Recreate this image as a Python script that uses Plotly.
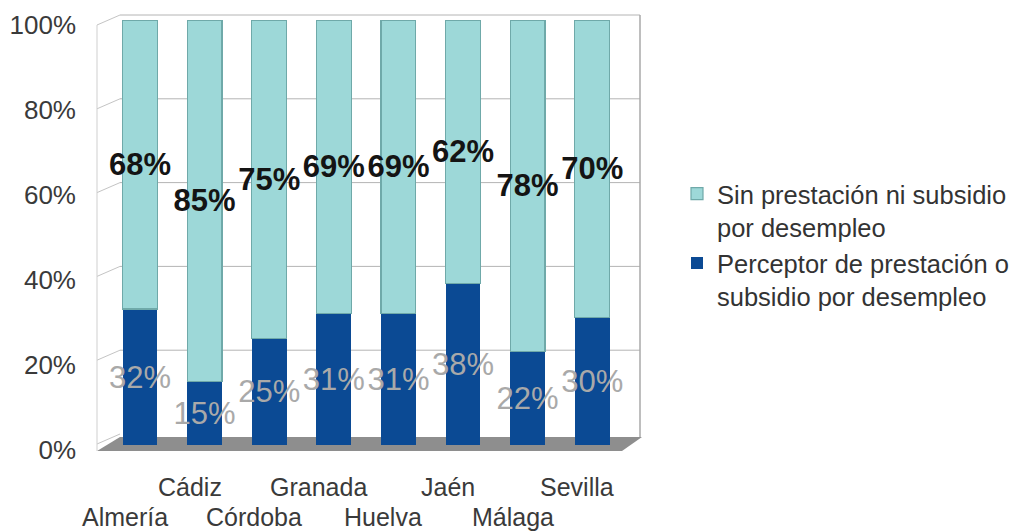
import plotly.graph_objects as go

# ---- data ----
provinces = ["Almería", "Cádiz", "Córdoba", "Granada", "Huelva", "Jaén", "Málaga", "Sevilla"]
perceptor = [32, 15, 25, 31, 31, 38, 22, 30]
sin_prestacion = [68, 85, 75, 69, 69, 62, 78, 70]
series_names = ["Perceptor de prestación o<br>subsidio por desempleo",
                "Sin prestación ni subsidio<br>por desempleo"]
y_ticks = [0, 20, 40, 60, 80, 100]

FONT = "Liberation Sans, Arial, sans-serif"
OFF = 8  # default page body margin
W, H = 1021 - OFF, 531 - OFF
# plot area in screen pixels
SL, SR, ST, SB = 97, 640, 20, 445
L, R, T, B = SL - OFF, SR - OFF, ST - OFF, SB - OFF
PW, PH = R - L, B - T

def px_x(p):  # screen px -> paper
    return (p - SL) / PW

def px_y(p):
    return (SB - p) / PH

# back-wall mapping of the pseudo-3D frame (value -> screen pixel y)
def back_y(v):
    return 15 + (100 - v) * 4.19

fig = go.Figure()
fig.add_trace(go.Bar(
    x=provinces, y=perceptor, name=series_names[0], legendgroup="a",
    marker=dict(color="#0b4a94", line=dict(width=0)),
    width=0.54,
    text=[f"{v}%" for v in perceptor], textposition="inside", textangle=0,
    constraintext="none", insidetextanchor="middle",
    insidetextfont=dict(family=FONT, size=31, color="#a9a9a9"),
    hoverinfo="skip",
))
fig.add_trace(go.Bar(
    x=provinces, y=sin_prestacion, name=series_names[1], legendgroup="b",
    marker=dict(color="#9dd8d8", line=dict(width=1.2, color="#6fa9a9")),
    width=0.54,
    text=[f"<b>{v}%</b>" for v in sin_prestacion], textposition="inside", textangle=0,
    constraintext="none", insidetextanchor="middle",
    insidetextfont=dict(family=FONT, size=31, color="#141414"),
    hoverinfo="skip",
))

shapes = []
# floor
shapes.append(dict(type="path", xref="paper", yref="paper", layer="below",
                   path=f"M {px_x(97)},{px_y(451)} L {px_x(120)},{px_y(437)} L {px_x(642)},{px_y(437)} L {px_x(622)},{px_y(451)} Z",
                   fillcolor="#8e8e8e", line=dict(width=0)))
for v in y_ticks:
    by = back_y(v)
    if v > 0:
        shapes.append(dict(type="line", xref="paper", yref="paper", layer="below",
                           x0=px_x(120), x1=px_x(640), y0=px_y(by), y1=px_y(by),
                           line=dict(color="#b4b4b4", width=1)))
    shapes.append(dict(type="line", xref="paper", yref="paper", layer="below",
                       x0=px_x(97), x1=px_x(120), y0=px_y(by + 10), y1=px_y(by),
                       line=dict(color="#c4c4c4", width=1)))
# left front edge and right back edge
shapes.append(dict(type="line", xref="paper", yref="paper", layer="below",
                   x0=px_x(97), x1=px_x(97), y0=px_y(25), y1=px_y(451),
                   line=dict(color="#cfcfcf", width=1)))
shapes.append(dict(type="line", xref="paper", yref="paper", layer="below",
                   x0=px_x(640), x1=px_x(640), y0=px_y(15), y1=px_y(437),
                   line=dict(color="#a8a8a8", width=1.5)))

annotations = []
for i, name in enumerate(provinces):
    row_py = 517 if i % 2 == 0 else 487
    annotations.append(dict(x=name, xref="x", y=px_y(row_py), yref="paper",
                            text=name, showarrow=False, xshift=-15,
                            yanchor="middle", xanchor="center",
                            font=dict(family=FONT, size=25, color="#3a3a3a")))

fig.update_layout(
    width=W, height=H, autosize=False,
    margin=dict(l=L, r=W - R, t=T, b=H - B, pad=0, autoexpand=False),
    paper_bgcolor="white", plot_bgcolor="white",
    barmode="stack", bargap=0.3,
    shapes=shapes, annotations=annotations,
    font=dict(family=FONT, color="#333333"),
    legend=dict(traceorder="reversed", xref="container", yref="container",
                x=669 / W, y=1 - 162.6 / H, xanchor="left", yanchor="top",
                valign="top", tracegroupgap=12,
                font=dict(family=FONT, size=25.5, color="#333333"),
                bgcolor="rgba(0,0,0,0)"),
    xaxis=dict(range=[-0.666, 7.74], showticklabels=False, showgrid=False,
               zeroline=False, showline=False, ticks=""),
    yaxis=dict(range=[0, 100], tickvals=y_ticks, ticktext=[f"{v}%" for v in y_ticks],
               showgrid=False, zeroline=False, showline=False, ticks="",
               ticklabelstandoff=20, ticklabelshift=5, automargin=False,
               ticklabeloverflow="allow",
               tickfont=dict(family=FONT, size=26, color="#3a3a3a")),
)

fig.write_html("out.html")
